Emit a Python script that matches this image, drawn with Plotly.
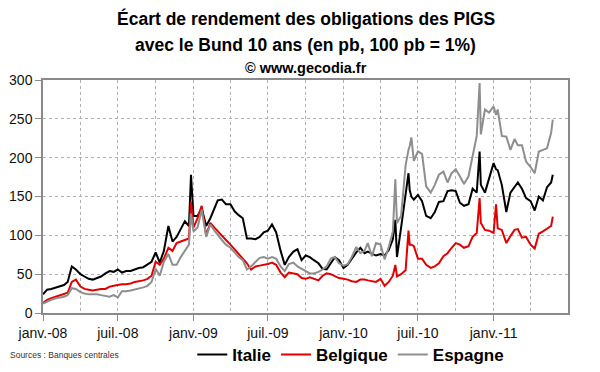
import plotly.graph_objects as go

# ---------------- data ----------------
dates = [
    # 2008
    "2008-01-01", "2008-01-11", "2008-01-21", "2008-02-01", "2008-02-11", "2008-02-21",
    "2008-03-01", "2008-03-11", "2008-03-21", "2008-04-01", "2008-04-11", "2008-04-21",
    "2008-05-01", "2008-05-11", "2008-05-21", "2008-06-01", "2008-06-11", "2008-06-21",
    "2008-07-01", "2008-07-11", "2008-07-21", "2008-08-01", "2008-08-11", "2008-08-21",
    "2008-09-01", "2008-09-11", "2008-09-21", "2008-10-01", "2008-10-11", "2008-10-21",
    "2008-11-01", "2008-11-11", "2008-11-21", "2008-12-01", "2008-12-11", "2008-12-21",
    "2008-12-26",
    # 2009
    "2009-01-01", "2009-01-11", "2009-01-21", "2009-02-01", "2009-02-11", "2009-02-21",
    "2009-03-01", "2009-03-11", "2009-03-21", "2009-04-01", "2009-04-11", "2009-04-21",
    "2009-05-01", "2009-05-11", "2009-05-21", "2009-06-01", "2009-06-11", "2009-06-21",
    "2009-07-01", "2009-07-11", "2009-07-21", "2009-08-01", "2009-08-11", "2009-08-21",
    "2009-09-01", "2009-09-11", "2009-09-21", "2009-10-01", "2009-10-11", "2009-10-21",
    "2009-11-01", "2009-11-11", "2009-11-21", "2009-12-01", "2009-12-11", "2009-12-21",
    # 2010
    "2010-01-01", "2010-01-11", "2010-01-21", "2010-02-01", "2010-02-11", "2010-02-21",
    "2010-03-01", "2010-03-11", "2010-03-21", "2010-04-01", "2010-04-11", "2010-04-21",
    "2010-05-01", "2010-05-07", "2010-05-11", "2010-05-21", "2010-06-01", "2010-06-08",
    "2010-06-11", "2010-06-15", "2010-06-21", "2010-07-01", "2010-07-11", "2010-07-21",
    "2010-08-01", "2010-08-11", "2010-08-21", "2010-09-01", "2010-09-11", "2010-09-21",
    "2010-10-01", "2010-10-11", "2010-10-21", "2010-11-01", "2010-11-11", "2010-11-21",
    "2010-11-28", "2010-12-01", "2010-12-11", "2010-12-21",
    # 2011
    "2011-01-01", "2011-01-07", "2011-01-11", "2011-01-21", "2011-02-01", "2011-02-11",
    "2011-02-21", "2011-03-01", "2011-03-11", "2011-03-21", "2011-04-01", "2011-04-11",
    "2011-04-21", "2011-05-01", "2011-05-11", "2011-05-21", "2011-05-25",
]

italie = [
    # 2008
    24, 30, 31, 33, 34, 36, 40, 60, 56, 50, 47, 44, 43, 45, 47, 51, 54, 53,
    56, 52, 54, 54, 56, 58, 59, 63, 66, 78, 65, 80, 112, 92, 98, 108, 118, 112, 178,
    # 2009
    125, 125, 135, 112, 122, 135, 145, 146, 140, 140, 131, 126, 122, 96, 96, 95, 98, 104,
    106, 114, 104, 80, 62, 72, 79, 82, 68, 74, 72, 68, 64, 57, 56, 64, 72, 68,
    # 2010
    58, 62, 70, 78, 84, 77, 79, 76, 74, 76, 74, 81, 95, 120, 72, 110, 150, 180,
    158, 150, 146, 152, 144, 125, 122, 130, 143, 144, 157, 158, 157, 142, 138, 140,
    160, 155, 208, 165, 155, 174,
    # 2011
    193, 185, 184, 165, 130, 155, 162, 168, 160, 148, 144, 132, 150, 145, 162, 168, 178,
]

belgique = [
    # 2008
    13, 17, 19, 21, 22, 24, 26, 40, 43, 34, 31, 30, 29, 30, 31, 31, 34, 35,
    36, 37, 37, 38, 40, 41, 42, 44, 48, 66, 62, 70, 84, 80, 90, 92, 94, 96, 143,
    # 2009
    110, 122, 138, 100, 116, 110, 105, 100, 94, 88, 82, 76, 70, 64, 56, 60, 61, 62,
    63, 65, 62, 52, 46, 52, 51, 50, 45, 44, 46, 44, 42, 48, 51, 50, 47, 45,
    # 2010
    44, 43, 41, 40, 43, 43, 42, 41, 40, 44, 35, 40, 48, 62, 47, 50, 55, 106,
    88, 88, 86, 70, 70, 62, 58, 60, 64, 73, 77, 84, 90, 88, 84, 86,
    98, 103, 148, 116, 107, 106,
    # 2011
    103, 140, 109, 107, 90, 99, 107, 108, 97, 98, 88, 83, 102, 105, 109, 112, 124,
]

espagne = [
    # 2008
    12, 15, 17, 19, 20, 21, 23, 32, 31, 27, 25, 24, 24, 24, 23, 22, 21, 23,
    20, 28, 28, 29, 30, 31, 33, 35, 40, 57, 48, 66, 76, 62, 62, 72, 80, 88, 128,
    # 2009
    105, 110, 133, 98, 114, 106, 100, 94, 88, 84, 78, 72, 68, 56, 60, 66, 71, 72,
    70, 72, 70, 60, 54, 63, 65, 60, 57, 53, 51, 51, 53, 56, 60, 70, 72, 64,
    # 2010
    61, 63, 72, 85, 77, 80, 90, 73, 90, 88, 69, 85, 105, 172, 116, 125, 190, 210,
    215, 226, 196, 208, 205, 163, 155, 165, 178, 182, 168, 180, 185, 176, 166, 176,
    200, 228, 296, 230, 262, 258,
    # 2011
    266, 255, 262, 228, 227, 210, 224, 216, 216, 195, 188, 180, 208, 210, 212, 232, 249,
]

tick_dates = ["2008-01-01", "2008-07-01", "2009-01-01", "2009-07-01",
              "2010-01-01", "2010-07-01", "2011-01-01"]
tick_labels = ["janv.-08", "juil.-08", "janv.-09", "juil.-09",
               "janv.-10", "juil.-10", "janv.-11"]

series_names = ["Italie", "Belgique", "Espagne"]
series_colors = ["#000000", "#e00000", "#8e8e8e"]

# ---------------- figure ----------------
# The page body keeps its default 8px margin, so the figure is sized 592x364
# to sit exactly inside the 600x372 window.
FONT = "Arial, 'Liberation Sans', Helvetica, sans-serif"

fig = go.Figure()
for name, vals, col in zip(series_names, [italie, belgique, espagne], series_colors):
    fig.add_trace(go.Scatter(
        x=dates, y=vals, name=name, mode="lines",
        line=dict(color=col, width=2),
    ))

axis_col = "#8a8a8a"
grid_col = "#b0b0b0"

fig.update_layout(
    template="none",
    width=592, height=364,
    margin=dict(l=35, r=32, t=72, b=59, autoexpand=False),
    paper_bgcolor="white", plot_bgcolor="white",
    font=dict(family=FONT, color="#111111", size=14),
    showlegend=True,
    legend=dict(
        orientation="h", xref="container", yref="container",
        x=0.579, xanchor="center", y=0.047, yanchor="middle",
        font=dict(family=FONT, size=17, weight="bold", color="#000000"),
        bgcolor="rgba(0,0,0,0)", borderwidth=0, itemwidth=30, tracegroupgap=0,
    ),
    xaxis=dict(
        type="date", automargin=False,
        range=["2008-01-01", "2011-07-01"],
        tickvals=tick_dates, ticktext=tick_labels,
        ticks="outside", ticklen=6, tickcolor=axis_col, tickwidth=1,
        showline=True, linecolor=axis_col, linewidth=1.5, mirror=True,
        showgrid=True, gridcolor=grid_col, griddash="dot", gridwidth=1,
        minor=dict(dtick="M3", tick0="2008-01-01", showgrid=True,
                   gridcolor=grid_col, griddash="dot", gridwidth=1, ticks=""),
        tickfont=dict(size=14, color="#111111"),
        zeroline=False,
    ),
    yaxis=dict(
        automargin=False,
        range=[0, 300], dtick=50, tick0=0,
        ticks="outside", ticklen=6, tickcolor=axis_col, tickwidth=1,
        showline=True, linecolor=axis_col, linewidth=1.5, mirror=True,
        showgrid=True, gridcolor=grid_col, griddash="dot", gridwidth=1,
        tickfont=dict(size=14, color="#111111"),
        zeroline=False,
    ),
)

title_lines = [
    ("Écart de rendement des obligations des PIGS", 17.5, 1.266),
    ("avec le Bund 10 ans (en pb, 100 pb = 1%)", 17.5, 1.150),
    ("© www.gecodia.fr", 14.5, 1.052),
]
for txt, size, ypos in title_lines:
    fig.add_annotation(
        text=txt, xref="paper", yref="paper", x=0.5, y=ypos,
        xanchor="center", yanchor="middle", showarrow=False,
        font=dict(family=FONT, size=size, weight="bold", color="#000000"),
    )

fig.add_annotation(
    text="Sources : Banques centrales", xref="paper", yref="paper",
    x=-0.066, y=-0.180, xanchor="left", yanchor="middle", showarrow=False,
    font=dict(family=FONT, size=8.5, color="#333333"),
)

fig.write_html("out.html")
